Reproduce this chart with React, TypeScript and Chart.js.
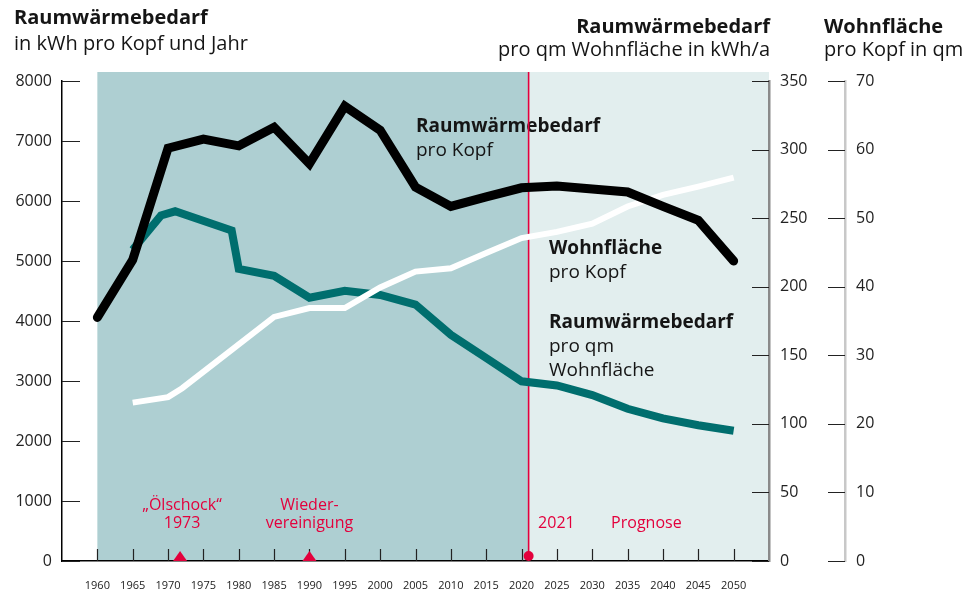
import React, { useEffect, useRef } from 'react';
import { Chart, registerables } from 'chart.js';

Chart.register(...registerables);

// ---------- data ----------
const perCapitaYears = [1960, 1965, 1970, 1975, 1980, 1985, 1990, 1995, 2000, 2005, 2010, 2015, 2020, 2025, 2030, 2035, 2040, 2045, 2050];
const heatPerCapita = [4060, 5020, 6880, 7030, 6920, 7230, 6620, 7580, 7180, 6230, 5910, 6070, 6220, 6250, 6200, 6150, 5910, 5680, 5000];

const perSqmYears = [1965, 1969, 1971, 1979, 1980, 1985, 1990, 1995, 2000, 2005, 2010, 2015, 2020, 2025, 2030, 2035, 2040, 2045, 2050];
const heatPerSqm = [227, 252, 255, 241, 213, 208, 192, 197, 194, 187, 165, 148, 131, 128, 121, 111, 104, 99, 95];

const areaYears = [1965, 1970, 1972, 1979, 1985, 1990, 1995, 2000, 2005, 2010, 2015, 2020, 2025, 2030, 2035, 2040, 2045, 2050];
const areaPerCapita = [23.1, 23.9, 25.2, 30.8, 35.6, 36.9, 36.9, 39.9, 42.2, 42.7, 44.9, 47.1, 48.0, 49.2, 51.7, 53.4, 54.6, 55.9];

const xTickYears = [1960, 1965, 1970, 1975, 1980, 1985, 1990, 1995, 2000, 2005, 2010, 2015, 2020, 2025, 2030, 2035, 2040, 2045, 2050];
const leftTicks = [0, 1000, 2000, 3000, 4000, 5000, 6000, 7000, 8000];
const sqmTicks = [0, 50, 100, 150, 200, 250, 300, 350];
const areaTicks = [0, 10, 20, 30, 40, 50, 60, 70];

const historyStart = 1960;
const forecastStart = 2021;
const eventYears = [1971.7, 1990];

// ---------- styles ----------
const FONT = '"Open Sans", "DejaVu Sans", sans-serif';
const RED = '#e3003c';
const TEAL = '#006e6e';
const BG_DARK = '#aecfd2';
const BG_LIGHT = '#e2eeee';
const TEXT = '#151515';

function txt(ctx: CanvasRenderingContext2D, s: string, x: number, y: number, weight: number, size: number, color: string, align: CanvasTextAlign = 'left') {
  ctx.font = `${weight} ${size}px ${FONT}`;
  ctx.fillStyle = color;
  ctx.textAlign = align;
  ctx.textBaseline = 'middle';
  ctx.fillText(s, x, y);
}

const decorPlugin = {
  id: 'decor',
  beforeDraw(chart: any) {
    const { ctx, chartArea, scales } = chart;
    const x = scales.x;
    const top = chartArea.top - 9;
    const bottom = chartArea.bottom;
    const x0 = x.getPixelForValue(historyStart);
    const x1 = x.getPixelForValue(forecastStart);
    ctx.save();
    ctx.fillStyle = BG_DARK;
    ctx.fillRect(x0, top, x1 - x0, bottom - top);
    ctx.fillStyle = BG_LIGHT;
    ctx.fillRect(x1, top, chartArea.right - x1, bottom - top);
    ctx.restore();
  },
  beforeDatasetsDraw(chart: any) {
    const { ctx, chartArea, scales } = chart;
    const { x, y, y1, y2 } = scales;
    ctx.save();
    // inward tick marks
    ctx.lineWidth = 1.2;
    ctx.strokeStyle = '#222';
    ctx.beginPath();
    leftTicks.forEach((v) => {
      const py = Math.round(y.getPixelForValue(v)) + 0.5;
      ctx.moveTo(chartArea.left, py);
      ctx.lineTo(chartArea.left + 18, py);
    });
    sqmTicks.forEach((v) => {
      const py = Math.round(y1.getPixelForValue(v)) + 0.5;
      ctx.moveTo(chartArea.right - 17, py);
      ctx.lineTo(chartArea.right, py);
    });
    areaTicks.forEach((v) => {
      const py = Math.round(y2.getPixelForValue(v)) + 0.5;
      ctx.moveTo(y2.left - 17, py);
      ctx.lineTo(y2.left, py);
    });
    xTickYears.forEach((v) => {
      const px = Math.round(x.getPixelForValue(v)) + 0.5;
      ctx.moveTo(px, chartArea.bottom - 12);
      ctx.lineTo(px, chartArea.bottom);
    });
    ctx.stroke();

    // series labels
    txt(ctx, 'Raumwärmebedarf', 416, 127, 700, 19, TEXT);
    txt(ctx, 'pro Kopf', 416, 151, 400, 19, TEXT);
    txt(ctx, 'Wohnfläche', 549, 249, 700, 19, TEXT);
    txt(ctx, 'pro Kopf', 549, 273, 400, 19, TEXT);
    txt(ctx, 'Raumwärmebedarf', 549, 323, 700, 19, TEXT);
    txt(ctx, 'pro qm', 549, 347, 400, 19, TEXT);
    txt(ctx, 'Wohnfläche', 549, 371, 400, 19, TEXT);

    // event annotations
    const e0 = x.getPixelForValue(eventYears[0]);
    const e1 = x.getPixelForValue(eventYears[1]);
    txt(ctx, '„Ölschock“', e0 + 2, 505, 400, 16, RED, 'center');
    txt(ctx, '1973', e0 + 2, 523, 400, 16, RED, 'center');
    txt(ctx, 'Wieder-', e1, 505, 400, 16, RED, 'center');
    txt(ctx, 'vereinigung', e1, 523, 400, 16, RED, 'center');
    const fx = x.getPixelForValue(forecastStart);
    txt(ctx, '2021', fx + 9.5, 523, 400, 16, RED);
    txt(ctx, 'Prognose', fx + 82.5, 523, 400, 16, RED);

    // forecast line
    ctx.strokeStyle = RED;
    ctx.lineWidth = 1.6;
    ctx.beginPath();
    ctx.moveTo(fx, chartArea.top - 9);
    ctx.lineTo(fx, chartArea.bottom - 5);
    ctx.stroke();
    ctx.restore();
  },
  afterDatasetsDraw(chart: any) {
    const { ctx, chartArea, scales } = chart;
    const x = scales.x;
    ctx.save();
    ctx.fillStyle = RED;
    eventYears.forEach((yr) => {
      const px = x.getPixelForValue(yr);
      ctx.beginPath();
      ctx.moveTo(px - 7, chartArea.bottom);
      ctx.lineTo(px + 7, chartArea.bottom);
      ctx.lineTo(px, chartArea.bottom - 10);
      ctx.closePath();
      ctx.fill();
    });
    const fx = x.getPixelForValue(forecastStart);
    ctx.beginPath();
    ctx.arc(fx, chartArea.bottom - 5, 5, 0, Math.PI * 2);
    ctx.fill();

    // headers
    txt(ctx, 'Raumwärmebedarf', 14, 18, 700, 20, TEXT);
    txt(ctx, 'in kWh pro Kopf und Jahr', 14, 44, 400, 20, TEXT);
    txt(ctx, 'Raumwärmebedarf', 770, 27, 700, 20, TEXT, 'right');
    txt(ctx, 'pro qm Wohnfläche in kWh/a', 770, 50, 400, 20, TEXT, 'right');
    txt(ctx, 'Wohnfläche', 824, 27, 700, 20, TEXT);
    txt(ctx, 'pro Kopf in qm', 824, 50, 400, 20, TEXT);
    ctx.restore();
  },
};

const setTicks = (arr: number[]) => (scale: any) => {
  scale.ticks = arr.map((v) => ({ value: v }));
};

export default function App() {
  const ref = useRef<HTMLCanvasElement>(null);

  useEffect(() => {
    const canvas = ref.current;
    if (!canvas) return;
    const chart = new Chart(canvas, {
      type: 'line',
      data: {
        datasets: [
          {
            label: 'Raumwärmebedarf pro Kopf',
            data: perCapitaYears.map((yr, i) => ({ x: yr, y: heatPerCapita[i] })),
            borderColor: '#000',
            borderWidth: 9,
            borderJoinStyle: 'miter',
            borderCapStyle: 'round',
            pointRadius: 0,
            tension: 0,
            yAxisID: 'y',
            clip: false,
          },
          {
            label: 'Wohnfläche pro Kopf',
            data: areaYears.map((yr, i) => ({ x: yr, y: areaPerCapita[i] })),
            borderColor: '#ffffff',
            borderWidth: 6,
            borderJoinStyle: 'miter',
            pointRadius: 0,
            tension: 0,
            yAxisID: 'y2',
            clip: false,
          },
          {
            label: 'Raumwärmebedarf pro qm Wohnfläche',
            data: perSqmYears.map((yr, i) => ({ x: yr, y: heatPerSqm[i] })),
            borderColor: TEAL,
            borderWidth: 8,
            borderJoinStyle: 'miter',
            pointRadius: 0,
            tension: 0,
            yAxisID: 'y1',
            clip: false,
          },
        ],
      },
      options: {
        animation: false,
        responsive: false,
        devicePixelRatio: 1,
        layout: { padding: { top: 81, left: 0, right: 0, bottom: 0 } },
        plugins: { legend: { display: false }, tooltip: { enabled: false }, title: { display: false } },
        events: [],
        scales: {
          x: {
            type: 'linear',
            position: 'bottom',
            min: 1955,
            max: 2055,
            afterBuildTicks: setTicks(xTickYears),
            afterFit: (s: any) => { s.height = 31; },
            grid: { display: false, drawTicks: false },
            border: { display: true, color: '#000', width: 1.5 },
            ticks: {
              autoSkip: false,
              maxRotation: 0,
              padding: 18,
              color: '#222',
              font: { family: FONT, size: 11 },
              callback: (v: any) => String(v),
            },
          },
          y: {
            type: 'linear',
            position: 'left',
            min: 0,
            max: 8000,
            afterBuildTicks: setTicks(leftTicks),
            afterFit: (s: any) => { s.width = 62; },
            grid: { display: false, drawTicks: false },
            border: { display: true, color: '#000', width: 1.5 },
            ticks: { padding: 10, color: '#222', font: { family: FONT, size: 16 }, callback: (v: any) => String(v) },
          },
          y1: {
            type: 'linear',
            position: 'right',
            min: 0,
            max: 350,
            afterBuildTicks: setTicks(sqmTicks),
            afterFit: (s: any) => { s.width = 76; },
            grid: { display: false, drawTicks: false },
            border: { display: true, color: '#8a8a8a', width: 2.5 },
            ticks: { padding: 11, color: '#222', font: { family: FONT, size: 16 }, callback: (v: any) => String(v) },
          },
          y2: {
            type: 'linear',
            position: 'right',
            min: 0,
            max: 70,
            afterBuildTicks: setTicks(areaTicks),
            afterFit: (s: any) => { s.width = 117; },
            grid: { display: false, drawTicks: false },
            border: { display: true, color: '#c8c8c8', width: 2.5 },
            ticks: { padding: 11, color: '#222', font: { family: FONT, size: 16 }, callback: (v: any) => String(v) },
          },
        },
      } as any,
      plugins: [decorPlugin],
    });
    return () => chart.destroy();
  }, []);

  return (
    <div style={{ position: 'absolute', left: 0, top: 0, width: 962, height: 592, background: '#fff' }}>
      <canvas ref={ref} width={962} height={592} style={{ display: 'block', width: 962, height: 592 }} />
    </div>
  );
}
